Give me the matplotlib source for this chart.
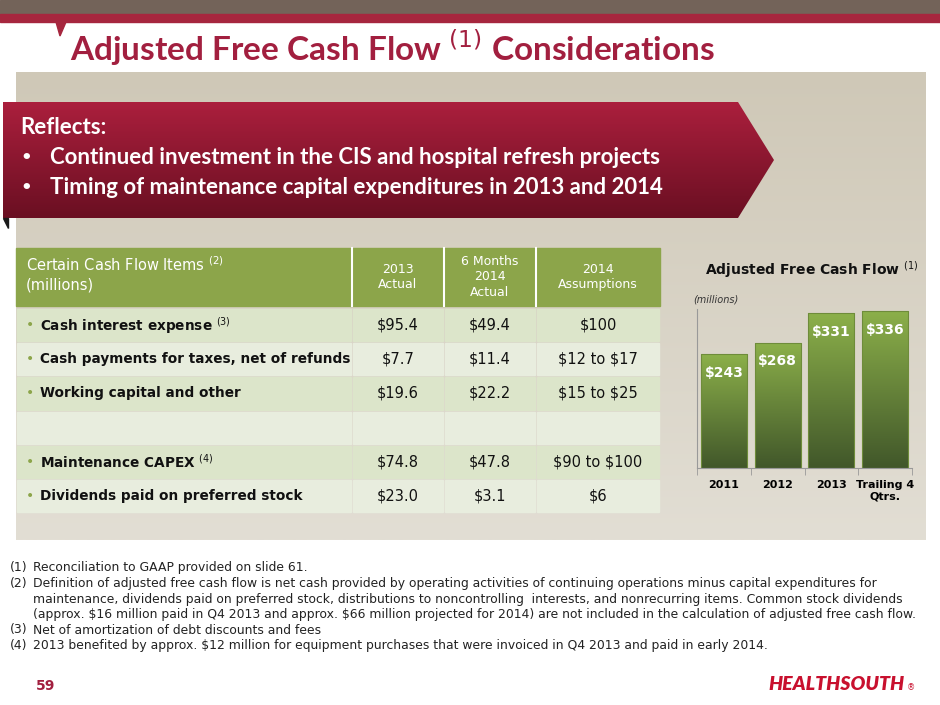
import numpy as np
import matplotlib
matplotlib.use("Agg")
from matplotlib import pyplot as plt
from matplotlib.patches import Rectangle, Polygon
from matplotlib.colors import LinearSegmentedColormap

plt.rcParams['font.family'] = ['DejaVu Sans']
LATO = ['Lato', 'DejaVu Sans']

# chart data
years = ['2011', '2012', '2013', 'Trailing 4\nQtrs.']
afcf = [243, 268, 331, 336]

# table data
row_labels = ['Cash interest expense $^{(3)}$',
              'Cash payments for taxes, net of refunds',
              'Working capital and other',
              '',
              'Maintenance CAPEX $^{(4)}$',
              'Dividends paid on preferred stock']
col_heads = ['2013\nActual', '6 Months\n2014\nActual', '2014\nAssumptions']
actual_2013 = ['$95.4', '$7.7', '$19.6', '', '$74.8', '$23.0']
actual_6m = ['$49.4', '$11.4', '$22.2', '', '$47.8', '$3.1']
assume_2014 = ['$100', '$12 to $17', '$15 to $25', '', '$90 to $100', '$6']

footnotes = [
    ('(1)', 'Reconciliation to GAAP provided on slide 61.'),
    ('(2)', 'Definition of adjusted free cash flow is net cash provided by operating activities of continuing operations minus capital expenditures for'),
    ('', 'maintenance, dividends paid on preferred stock, distributions to noncontrolling  interests, and nonrecurring items. Common stock dividends'),
    ('', '(approx. $16 million paid in Q4 2013 and approx. $66 million projected for 2014) are not included in the calculation of adjusted free cash flow.'),
    ('(3)', 'Net of amortization of debt discounts and fees'),
    ('(4)', '2013 benefited by approx. $12 million for equipment purchases that were invoiced in Q4 2013 and paid in early 2014.'),
]


def esc(s):
    return s.replace('$', r'\$')


W, H = 940, 705
fig = plt.figure(figsize=(9.4, 7.05), dpi=100)
bg = fig.add_axes([0, 0, 1, 1])
bg.set_xlim(0, W)
bg.set_ylim(H, 0)
bg.axis('off')

RED = '#A21F3F'

# header bars
bg.add_patch(Rectangle((0, 0), W, 14, color='#736359'))
bg.add_patch(Rectangle((0, 14), W, 8, color='#A6263E'))
bg.add_patch(Polygon([(56, 22), (66, 22), (60, 36)], color='#A6263E'))
bg.text(70, 48, 'Adjusted Free Cash Flow $^{(1)}$ Considerations', color=RED,
        fontsize=24, fontweight='bold', va='center', family=LATO)

# beige panel with vertical gradient
grad = np.linspace(0, 1, 256).reshape(-1, 1)
beige = LinearSegmentedColormap.from_list('b', ['#CFC8B7', '#E2DED4'])
bg.imshow(grad, cmap=beige, extent=(16, 926, 540, 72), aspect='auto', zorder=0)

# red banner
reds = LinearSegmentedColormap.from_list('r', ['#AB1F3D', '#6A0F22'])
ban = Polygon([(3, 102), (738, 102), (774, 160), (738, 218), (3, 218)],
              closed=True, facecolor='none', edgecolor='none')
bg.add_patch(ban)
im = bg.imshow(grad, cmap=reds, extent=(3, 774, 218, 102), aspect='auto', zorder=1)
im.set_clip_path(ban)
bg.add_patch(Polygon([(3, 218), (8, 218), (8, 228)], color='#1a1a1a', zorder=1))
bg.text(20, 127, 'Reflects:', color='white', fontsize=16, fontweight='bold',
        va='center', zorder=2, family=LATO)
for yy, t in [(158, 'Continued investment in the CIS and hospital refresh projects'),
              (188, 'Timing of maintenance capital expenditures in 2013 and 2014')]:
    bg.text(20, yy, '•', color='white', fontsize=13, fontweight='bold', va='center', zorder=2)
    bg.text(50, yy, t, color='white', fontsize=16, fontweight='bold', va='center',
            zorder=2, family=LATO)

# table
cols = [16, 352, 444, 536, 660]
head_top, head_bot = 248, 306
bg.add_patch(Rectangle((16, head_top), 644, head_bot - head_top, color='#8CA54A', zorder=2))
for c in cols[1:-1]:
    bg.plot([c, c], [head_top, head_bot], color='white', lw=1.5, zorder=3)
bg.text(26, 265, 'Certain Cash Flow Items $^{(2)}$', color='white', fontsize=10.5,
        va='center', zorder=3)
bg.text(26, 285, '(millions)', color='white', fontsize=10.5, va='center', zorder=3)
for i, h in enumerate(col_heads):
    bg.text((cols[i + 1] + cols[i + 2]) / 2, (head_top + head_bot) / 2, h, color='white',
            fontsize=9, ha='center', va='center', zorder=3, linespacing=1.25)
row_h = 34.2
y0 = 309
for r in range(len(row_labels)):
    top = y0 + r * row_h
    colr = '#DCE5CA' if r % 2 == 0 else '#E8EDDE'
    for c in range(4):
        bg.add_patch(Rectangle((cols[c] + 1, top), cols[c + 1] - cols[c] - 2, row_h - 2,
                               color=colr, zorder=2))
    cy = top + row_h / 2 - 1
    if row_labels[r]:
        bg.text(26, cy, '•', fontsize=10, color='#8CA54A', va='center', zorder=3)
        bg.text(40, cy, row_labels[r], fontsize=9.8, fontweight='bold',
                va='center', color='#111111', zorder=3)
    for c, vals in enumerate([actual_2013, actual_6m, assume_2014]):
        bg.text((cols[c + 1] + cols[c + 2]) / 2, cy, esc(vals[r]), fontsize=10.5,
                ha='center', va='center', color='#111111', zorder=3)

# bar chart
bg.text(705, 270, 'Adjusted Free Cash Flow $^{(1)}$', fontsize=10, fontweight='bold',
        va='center', color='#111111')
bg.text(693, 299, '(millions)', fontsize=7, style='italic', va='center', color='#333333')
ax = fig.add_axes([697 / W, 1 - 468 / H, 215 / W, 159 / H])
ax.patch.set_alpha(0)
x = np.arange(len(years))
bars = ax.bar(x, afcf, width=0.86, color='none', edgecolor='#6E8C3A', lw=0.8, zorder=2)
greens = LinearSegmentedColormap.from_list('g', ['#41572A', '#8CB04A'])
for b, v in zip(bars, afcf):
    gi = ax.imshow(grad, cmap=greens, origin='lower', aspect='auto',
                   extent=(b.get_x(), b.get_x() + b.get_width(), 0, v), zorder=1)
    gi.set_clip_path(b)
    ax.text(b.get_x() + b.get_width() / 2, v - 40, esc(f'${v}'), color='white', fontsize=10,
            fontweight='bold', ha='center', va='center', zorder=3)
ax.set_xlim(-0.5, len(years) - 0.5)
ax.set_ylim(0, 340)
ax.set_xticks(x)
ax.set_xticklabels(years, fontsize=8, fontweight='bold', linespacing=1.1)
ax.set_yticks([])
for s in ['top', 'right']:
    ax.spines[s].set_visible(False)
ax.spines['left'].set_color('#999999')
ax.spines['bottom'].set_color('#999999')
ax.set_xticks(np.arange(-0.5, len(years)), minor=True)
ax.tick_params(axis='x', which='minor', length=5, color='#999999')
ax.tick_params(axis='x', which='major', length=0, pad=9)

# footnotes
for i, (n, t) in enumerate(footnotes):
    yy = 568 + i * 15.5
    bg.text(10, yy, n, fontsize=8.9, va='center', color='#222222')
    bg.text(33, yy, esc(t), fontsize=8.9, va='center', color='#222222')

bg.text(36, 686, '59', color=RED, fontsize=10, fontweight='bold', va='center')
bg.text(905, 684, 'HEALTHSOUTH', color='#C8102E', fontsize=14, fontweight='heavy',
        style='italic', ha='right', va='center', family=LATO)
bg.text(907, 688, '®', color='#C8102E', fontsize=6, va='center')

fig.savefig('out.png', dpi=100)
